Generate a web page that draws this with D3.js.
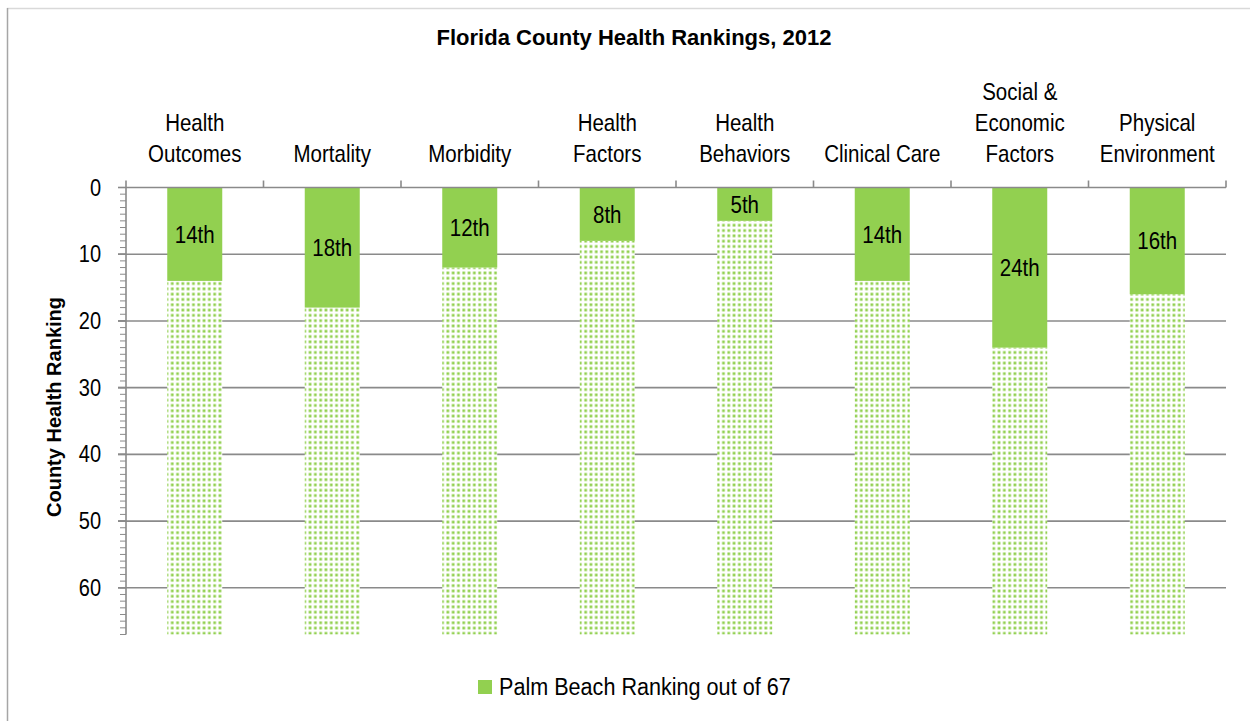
<!DOCTYPE html>
<html><head><meta charset="utf-8">
<script src="https://cdn.jsdelivr.net/npm/d3@7"></script>
<style>body{margin:0;background:#fff;} svg{display:block;} text{font-family:"Liberation Sans",Arial,sans-serif;fill:#000;}</style>
</head><body><svg id="c" width="1250" height="721"></svg>
<script>
const categories = [["Health","Outcomes"],["Mortality"],["Morbidity"],["Health","Factors"],["Health","Behaviors"],["Clinical Care"],["Social &","Economic","Factors"],["Physical","Environment"]];
const rankings = [14,18,12,8,5,14,24,16];
const rankLabels = ["14th","18th","12th","8th","5th","14th","24th","16th"];
const totalCounties = 67;
const yTicks = [0,10,20,30,40,50,60];
const title = "Florida County Health Rankings, 2012";
const yTitle = "County Health Ranking";
const legendLabel = "Palm Beach Ranking out of 67";

const green = "#92d050", grid = "#8a8a8a";
const SY = 1.15;
const svg = d3.select("#c");
const L = 126, R = 1226, T = 187.5, B = 634.5;

const defs = svg.append("defs");
const pat = defs.append("pattern").attr("id","dots").attr("patternUnits","userSpaceOnUse")
  .attr("width",5.3).attr("height",5.3);
pat.append("rect").attr("width",5.3).attr("height",5.3).attr("fill","#fff");
pat.append("rect").attr("x",1.3).attr("y",1.3).attr("width",2.7).attr("height",2.7).attr("fill",green);

function txt(parent, x, y, s, size, anchor, weight){
  return parent.append("text").attr("transform",`translate(${x},${y}) scale(1,${SY})`)
    .attr("text-anchor",anchor||"start").attr("font-size",size).attr("font-weight",weight||"normal").text(s);
}

// frame
svg.append("line").attr("x1",7).attr("x2",1250).attr("y1",8.5).attr("y2",8.5).attr("stroke","#d9d9d9").attr("stroke-width",1.5);
svg.append("line").attr("x1",7.5).attr("x2",7.5).attr("y1",8).attr("y2",721).attr("stroke","#a6a6a6").attr("stroke-width",1.5);

const x = d3.scaleBand().domain(d3.range(categories.length)).range([L,R]).paddingInner(0).paddingOuter(0);
const y = d3.scaleLinear().domain([0,totalCounties]).range([T,B]);
const bw = x.bandwidth()*0.4;

// gridlines
svg.append("g").selectAll("line").data(yTicks.filter(d=>d>0)).join("line")
  .attr("x1",L-8).attr("x2",R).attr("y1",d=>y(d)).attr("y2",d=>y(d))
  .attr("stroke",grid).attr("stroke-width",1.6);

// minor ticks
svg.append("g").selectAll("line").data(d3.range(0,totalCounties+1)).join("line")
  .attr("x1",L-6).attr("x2",L).attr("y1",d=>y(d)).attr("y2",d=>y(d))
  .attr("stroke",grid).attr("stroke-width",1);
svg.append("g").selectAll("line").data(yTicks).join("line")
  .attr("x1",L-8).attr("x2",L).attr("y1",d=>y(d)).attr("y2",d=>y(d))
  .attr("stroke",grid).attr("stroke-width",1.6);

// bars
const g = svg.append("g");
g.selectAll("rect.rest").data(rankings).join("rect").attr("class","rest")
  .attr("x",(d,i)=>x(i)+(x.bandwidth()-bw)/2).attr("width",bw)
  .attr("y",d=>y(d)).attr("height",d=>y(totalCounties)-y(d)).attr("fill","url(#dots)");
g.selectAll("rect.rank").data(rankings).join("rect").attr("class","rank")
  .attr("x",(d,i)=>x(i)+(x.bandwidth()-bw)/2).attr("width",bw)
  .attr("y",y(0)).attr("height",d=>y(d)-y(0)).attr("fill",green);
rankings.forEach((d,i)=>txt(g, x(i)+x.bandwidth()/2, (y(0)+y(d))/2+8.5, rankLabels[i], 20.5, "middle"));

// axes lines
svg.append("line").attr("x1",L).attr("x2",L).attr("y1",T).attr("y2",B).attr("stroke",grid).attr("stroke-width",1.6);
svg.append("line").attr("x1",L).attr("x2",R).attr("y1",T).attr("y2",T).attr("stroke",grid).attr("stroke-width",1.6);
svg.append("g").selectAll("line").data(d3.range(categories.length+1)).join("line")
  .attr("x1",d=>L+d*x.step()).attr("x2",d=>L+d*x.step()).attr("y1",T).attr("y2",T-7)
  .attr("stroke",grid).attr("stroke-width",1.6);

// y tick labels
const yl = svg.append("g");
yTicks.forEach(d=>txt(yl, 101, y(d)+8, d, 20, "end"));

// category labels
const cg = svg.append("g");
categories.forEach((lines,i)=>{
  lines.forEach((ln,j)=>txt(cg, x(i)+x.bandwidth()/2, 162-(lines.length-1-j)*31, ln, 20.5, "middle"));
});

// title
svg.append("text").attr("x",634).attr("y",45).attr("text-anchor","middle").attr("font-size",22).attr("font-weight","bold").text(title);
// y title
svg.append("text").attr("transform","translate(61,407) rotate(-90)").attr("text-anchor","middle").attr("font-size",20).attr("font-weight","bold").text(yTitle);

// legend
svg.append("rect").attr("x",478).attr("y",680).attr("width",14).attr("height",14).attr("fill",green);
txt(svg, 499, 695, legendLabel, 21.6, "start");
</script></body></html>
